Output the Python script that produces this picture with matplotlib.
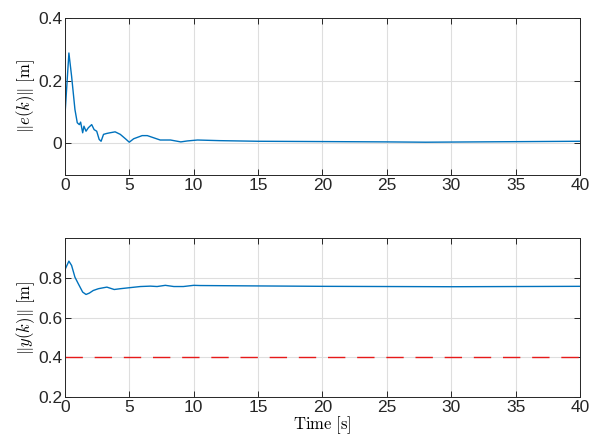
import matplotlib
matplotlib.use('Agg')
import matplotlib.pyplot as plt

plt.rcParams['font.family'] = ['Liberation Sans', 'DejaVu Sans']
plt.rcParams['mathtext.fontset'] = 'cm'

# error norm ||e(k)||
t_e = [0, 0.31, 0.52, 0.78, 0.96, 1.12, 1.22, 1.38, 1.48, 1.64, 1.82, 2.08, 2.27,
       2.47, 2.66, 2.81, 3.0, 3.26, 3.5, 3.9, 4.3, 4.7, 5.0, 5.34, 6.0, 6.4, 6.9,
       7.4, 8.2, 9.0, 9.5, 10.3, 12, 15, 20, 25, 28, 32, 36, 40]
e_norm = [0.087, 0.288, 0.214, 0.108, 0.066, 0.06, 0.068, 0.034, 0.055, 0.039,
          0.05, 0.06, 0.044, 0.039, 0.013, 0.007, 0.029, 0.032, 0.034, 0.037,
          0.029, 0.015, 0.004, 0.015, 0.025, 0.025, 0.018, 0.011, 0.011, 0.005,
          0.008, 0.011, 0.009, 0.007, 0.006, 0.005, 0.004, 0.005, 0.006, 0.007]

# output norm ||y(k)||
t_y = [0, 0.31, 0.52, 0.78, 1.04, 1.38, 1.64, 1.9, 2.2, 2.6, 3.0, 3.26, 3.5, 3.83,
       4.3, 5.0, 5.86, 6.64, 7.16, 7.8, 8.46, 9.2, 10.0, 10.5, 15, 20, 25, 30, 35, 40]
y_norm = [0.840, 0.884, 0.862, 0.803, 0.770, 0.728, 0.716, 0.723, 0.736, 0.745,
          0.750, 0.753, 0.748, 0.741, 0.745, 0.750, 0.756, 0.758, 0.756, 0.762,
          0.756, 0.756, 0.762, 0.761, 0.759, 0.757, 0.756, 0.755, 0.756, 0.757]
y_bound = 0.4

blue = (0, 0.447, 0.741)

fig = plt.figure(figsize=(5.9, 4.45), dpi=100)
ax1 = fig.add_axes([0.110, 0.607, 0.873, 0.353])
ax2 = fig.add_axes([0.110, 0.108, 0.873, 0.357])

ax1.plot(t_e, e_norm, color=blue, lw=1.0)
ax1.set_ylim(-0.1, 0.4)
ax1.set_yticks([0, 0.2, 0.4])
ax1.set_yticklabels(['0', '0.2', '0.4'])
ax1.set_ylabel(r'$\|e(k)\|\ [\mathrm{m}]$', fontsize=12, labelpad=1)

ax2.plot(t_y, y_norm, color=blue, lw=1.0)
ax2.axhline(y_bound, color=(0.9, 0.1, 0.1), lw=1.0, dashes=(12.5, 8.5))
ax2.set_ylim(0.2, 1.0)
ax2.set_yticks([0.2, 0.4, 0.6, 0.8])
ax2.set_ylabel(r'$\|y(k)\|\ [\mathrm{m}]$', fontsize=12, labelpad=1)
ax2.set_xlabel(r'$\mathrm{Time\ [s]}$', fontsize=12, labelpad=0)

for ax in (ax1, ax2):
    ax.set_xlim(0, 40)
    ax.set_xticks(range(0, 41, 5))
    ax.grid(True, color=(0.87, 0.87, 0.87), lw=0.8)
    ax.set_axisbelow(True)
    ax.tick_params(direction='in', top=True, right=True, labelsize=12.5,
                   length=4, width=0.7, colors=(0.15, 0.15, 0.15), pad=2)
    for sp in ax.spines.values():
        sp.set_color((0.15, 0.15, 0.15))
        sp.set_linewidth(0.7)

fig.savefig('out.png', dpi=100)
